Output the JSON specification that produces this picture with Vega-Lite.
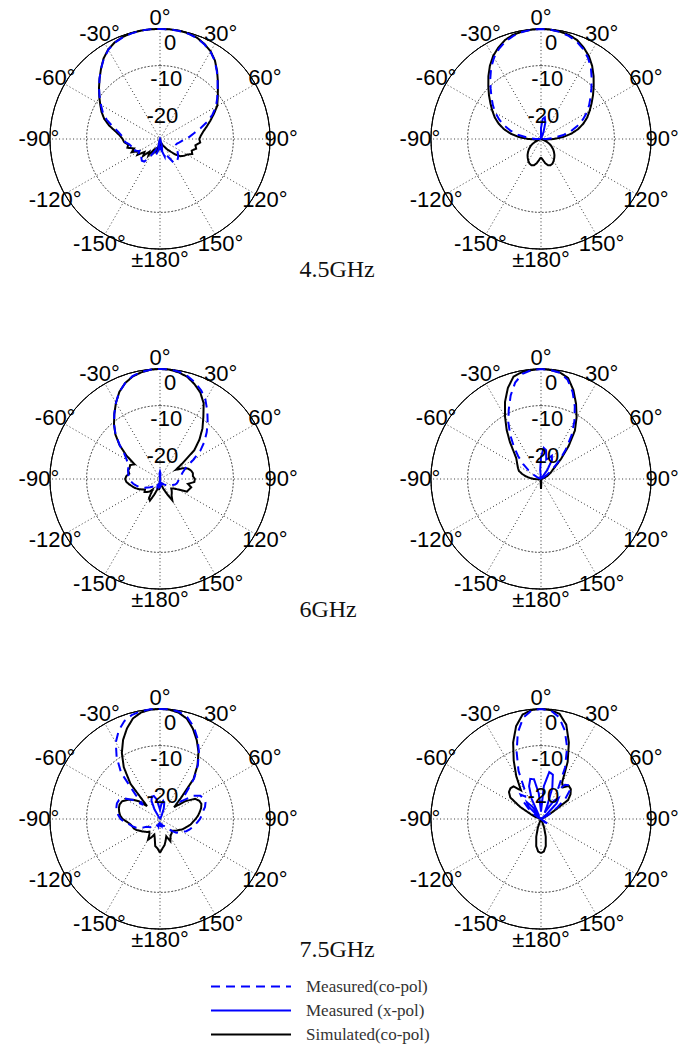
{
"$schema":"https://vega.github.io/schema/vega-lite/v6.json",
"background":"white",
"padding":{"left":18,"top":6,"right":5,"bottom":5},
"bounds":"flush",
"data":{"values":[
{"p":"a","a":-180,"sim":-28,"co":-27,"xp":-27},{"p":"a","a":-175,"sim":-27,"co":-27.5,"xp":-28},{"p":"a","a":-170,"sim":-28.5,"co":-26.5,"xp":-27.5},{"p":"a","a":-165,"sim":-26,"co":-25.5,"xp":-29},{"p":"a","a":-160,"sim":-27.5,"co":-27,"xp":-29.5},{"p":"a","a":-155,"sim":-25.5,"co":-26,"xp":-30},{"p":"a","a":-150,"sim":-26.5,"co":-24,"xp":-30},{"p":"a","a":-145,"sim":-24.5,"co":-22.5,"xp":-30},{"p":"a","a":-140,"sim":-25.5,"co":-22.3,"xp":-30},{"p":"a","a":-135,"sim":-23.5,"co":-22.8,"xp":-30},{"p":"a","a":-130,"sim":-24.5,"co":-23.5,"xp":-30},{"p":"a","a":-125,"sim":-22.5,"co":-22.8,"xp":-30},{"p":"a","a":-120,"sim":-23.5,"co":-23.5,"xp":-30},{"p":"a","a":-115,"sim":-21.5,"co":-22.5,"xp":-30},{"p":"a","a":-110,"sim":-22.5,"co":-23,"xp":-30},{"p":"a","a":-105,"sim":-20.8,"co":-22,"xp":-30},{"p":"a","a":-100,"sim":-21.2,"co":-21.5,"xp":-30},{"p":"a","a":-95,"sim":-20.2,"co":-20.5,"xp":-30},{"p":"a","a":-90,"sim":-19.8,"co":-20.2,"xp":-30},{"p":"a","a":-85,"sim":-19,"co":-19.5,"xp":-30},{"p":"a","a":-80,"sim":-17.6,"co":-18.4,"xp":-30},{"p":"a","a":-75,"sim":-15.6,"co":-16.6,"xp":-30},{"p":"a","a":-70,"sim":-13.8,"co":-14.5,"xp":-30},{"p":"a","a":-65,"sim":-12.4,"co":-12.8,"xp":-30},{"p":"a","a":-60,"sim":-11.2,"co":-11.4,"xp":-30},{"p":"a","a":-55,"sim":-9.8,"co":-9.9,"xp":-30},{"p":"a","a":-50,"sim":-8.3,"co":-8.3,"xp":-30},{"p":"a","a":-45,"sim":-6.7,"co":-6.7,"xp":-30},{"p":"a","a":-40,"sim":-5,"co":-5,"xp":-30},{"p":"a","a":-35,"sim":-3.2,"co":-3.3,"xp":-30},{"p":"a","a":-30,"sim":-1.8,"co":-1.9,"xp":-30},{"p":"a","a":-25,"sim":-0.9,"co":-1,"xp":-30},{"p":"a","a":-20,"sim":-0.4,"co":-0.5,"xp":-30},{"p":"a","a":-15,"sim":-0.1,"co":-0.2,"xp":-30},{"p":"a","a":-10,"sim":0,"co":0,"xp":-30},{"p":"a","a":-5,"sim":0,"co":0,"xp":-30},{"p":"a","a":0,"sim":0,"co":0,"xp":-30},{"p":"a","a":5,"sim":0,"co":0,"xp":-30},{"p":"a","a":10,"sim":0,"co":-0.1,"xp":-30},{"p":"a","a":15,"sim":-0.2,"co":-0.3,"xp":-30},{"p":"a","a":20,"sim":-0.6,"co":-0.7,"xp":-30},{"p":"a","a":25,"sim":-1.4,"co":-1.5,"xp":-30},{"p":"a","a":30,"sim":-2.4,"co":-2.5,"xp":-30},{"p":"a","a":35,"sim":-3.9,"co":-4,"xp":-30},{"p":"a","a":40,"sim":-5.8,"co":-5.9,"xp":-30},{"p":"a","a":45,"sim":-7.7,"co":-7.8,"xp":-30},{"p":"a","a":50,"sim":-9.4,"co":-9.5,"xp":-30},{"p":"a","a":55,"sim":-10.8,"co":-11,"xp":-30},{"p":"a","a":60,"sim":-12,"co":-12.4,"xp":-30},{"p":"a","a":65,"sim":-13.8,"co":-14.2,"xp":-30},{"p":"a","a":70,"sim":-15.4,"co":-16.3,"xp":-30},{"p":"a","a":75,"sim":-16.8,"co":-18.5,"xp":-30},{"p":"a","a":80,"sim":-18,"co":-20.5,"xp":-30},{"p":"a","a":85,"sim":-18.8,"co":-21.8,"xp":-30},{"p":"a","a":90,"sim":-19.3,"co":-22.8,"xp":-30},{"p":"a","a":95,"sim":-19,"co":-24,"xp":-30},{"p":"a","a":100,"sim":-20.2,"co":-24.6,"xp":-30},{"p":"a","a":105,"sim":-19.8,"co":-25.2,"xp":-30},{"p":"a","a":110,"sim":-20.8,"co":-25.4,"xp":-30},{"p":"a","a":115,"sim":-20.3,"co":-25.2,"xp":-30},{"p":"a","a":120,"sim":-21.5,"co":-24.8,"xp":-30},{"p":"a","a":125,"sim":-22,"co":-24.2,"xp":-30},{"p":"a","a":130,"sim":-22.7,"co":-23.6,"xp":-30},{"p":"a","a":135,"sim":-24,"co":-23,"xp":-30},{"p":"a","a":140,"sim":-25.5,"co":-22.6,"xp":-30},{"p":"a","a":145,"sim":-26.5,"co":-22.2,"xp":-30},{"p":"a","a":150,"sim":-27.5,"co":-22.6,"xp":-30},{"p":"a","a":155,"sim":-28,"co":-24.5,"xp":-30},{"p":"a","a":160,"sim":-28.5,"co":-26,"xp":-29.5},{"p":"a","a":165,"sim":-28.5,"co":-25,"xp":-28},{"p":"a","a":170,"sim":-29,"co":-26.5,"xp":-26.5},{"p":"a","a":175,"sim":-28.5,"co":-27.5,"xp":-27.5},{"p":"a","a":180,"sim":-28,"co":-27,"xp":-27},
{"p":"b","a":-180,"sim":-25,"co":-30,"xp":-30},{"p":"b","a":-175,"sim":-24.3,"co":-30,"xp":-30},{"p":"b","a":-170,"sim":-23.3,"co":-30,"xp":-30},{"p":"b","a":-165,"sim":-22.6,"co":-30,"xp":-30},{"p":"b","a":-160,"sim":-22.4,"co":-30,"xp":-30},{"p":"b","a":-155,"sim":-22.6,"co":-30,"xp":-30},{"p":"b","a":-150,"sim":-23.1,"co":-30,"xp":-30},{"p":"b","a":-145,"sim":-23.7,"co":-30,"xp":-30},{"p":"b","a":-140,"sim":-24.3,"co":-30,"xp":-30},{"p":"b","a":-135,"sim":-25,"co":-30,"xp":-30},{"p":"b","a":-130,"sim":-25.7,"co":-30,"xp":-30},{"p":"b","a":-125,"sim":-26.5,"co":-30,"xp":-30},{"p":"b","a":-120,"sim":-27.3,"co":-30,"xp":-30},{"p":"b","a":-115,"sim":-28.3,"co":-30,"xp":-30},{"p":"b","a":-110,"sim":-29.5,"co":-30,"xp":-30},{"p":"b","a":-105,"sim":-30,"co":-30,"xp":-30},{"p":"b","a":-100,"sim":-30,"co":-30,"xp":-30},{"p":"b","a":-95,"sim":-28.5,"co":-30,"xp":-30},{"p":"b","a":-90,"sim":-26.5,"co":-28.5,"xp":-30},{"p":"b","a":-85,"sim":-24,"co":-26.5,"xp":-30},{"p":"b","a":-80,"sim":-21.6,"co":-23.8,"xp":-30},{"p":"b","a":-75,"sim":-19.5,"co":-21.5,"xp":-30},{"p":"b","a":-70,"sim":-17.7,"co":-19.4,"xp":-30},{"p":"b","a":-65,"sim":-16.1,"co":-17.4,"xp":-30},{"p":"b","a":-60,"sim":-14.7,"co":-15.6,"xp":-30},{"p":"b","a":-55,"sim":-13.2,"co":-14,"xp":-30},{"p":"b","a":-50,"sim":-11.5,"co":-12.4,"xp":-30},{"p":"b","a":-45,"sim":-9.7,"co":-10.6,"xp":-30},{"p":"b","a":-40,"sim":-7.7,"co":-8.5,"xp":-30},{"p":"b","a":-35,"sim":-5.7,"co":-6.3,"xp":-30},{"p":"b","a":-30,"sim":-3.9,"co":-4.4,"xp":-30},{"p":"b","a":-25,"sim":-2.5,"co":-2.9,"xp":-30},{"p":"b","a":-20,"sim":-1.3,"co":-1.7,"xp":-30},{"p":"b","a":-15,"sim":-0.6,"co":-0.9,"xp":-30},{"p":"b","a":-10,"sim":-0.3,"co":-0.4,"xp":-30},{"p":"b","a":-5,"sim":-0.1,"co":-0.1,"xp":-30},{"p":"b","a":0,"sim":0,"co":0,"xp":-27},{"p":"b","a":5,"sim":-0.1,"co":-0.1,"xp":-24.5},{"p":"b","a":10,"sim":-0.3,"co":-0.4,"xp":-24},{"p":"b","a":15,"sim":-0.6,"co":-0.9,"xp":-25.5},{"p":"b","a":20,"sim":-1.3,"co":-1.7,"xp":-28},{"p":"b","a":25,"sim":-2.5,"co":-2.9,"xp":-30},{"p":"b","a":30,"sim":-3.9,"co":-4.4,"xp":-30},{"p":"b","a":35,"sim":-5.7,"co":-6.3,"xp":-30},{"p":"b","a":40,"sim":-7.7,"co":-8.5,"xp":-30},{"p":"b","a":45,"sim":-9.7,"co":-10.6,"xp":-30},{"p":"b","a":50,"sim":-11.5,"co":-12.4,"xp":-30},{"p":"b","a":55,"sim":-13.2,"co":-14,"xp":-30},{"p":"b","a":60,"sim":-14.7,"co":-15.6,"xp":-30},{"p":"b","a":65,"sim":-16.1,"co":-17.4,"xp":-30},{"p":"b","a":70,"sim":-17.7,"co":-19.4,"xp":-30},{"p":"b","a":75,"sim":-19.5,"co":-21.5,"xp":-30},{"p":"b","a":80,"sim":-21.6,"co":-23.8,"xp":-30},{"p":"b","a":85,"sim":-24,"co":-26.5,"xp":-30},{"p":"b","a":90,"sim":-26.5,"co":-28.5,"xp":-30},{"p":"b","a":95,"sim":-28.5,"co":-30,"xp":-30},{"p":"b","a":100,"sim":-30,"co":-30,"xp":-30},{"p":"b","a":105,"sim":-30,"co":-30,"xp":-30},{"p":"b","a":110,"sim":-29.5,"co":-30,"xp":-30},{"p":"b","a":115,"sim":-28.3,"co":-30,"xp":-30},{"p":"b","a":120,"sim":-27.3,"co":-30,"xp":-30},{"p":"b","a":125,"sim":-26.5,"co":-30,"xp":-30},{"p":"b","a":130,"sim":-25.7,"co":-30,"xp":-30},{"p":"b","a":135,"sim":-25,"co":-30,"xp":-30},{"p":"b","a":140,"sim":-24.3,"co":-30,"xp":-30},{"p":"b","a":145,"sim":-23.7,"co":-30,"xp":-30},{"p":"b","a":150,"sim":-23.1,"co":-30,"xp":-30},{"p":"b","a":155,"sim":-22.6,"co":-30,"xp":-30},{"p":"b","a":160,"sim":-22.4,"co":-30,"xp":-30},{"p":"b","a":165,"sim":-22.6,"co":-30,"xp":-30},{"p":"b","a":170,"sim":-23.3,"co":-30,"xp":-30},{"p":"b","a":175,"sim":-24.3,"co":-30,"xp":-30},{"p":"b","a":180,"sim":-25,"co":-30,"xp":-30},
{"p":"c","a":-180,"sim":-28.5,"co":-28,"xp":-27.5},{"p":"c","a":-175,"sim":-27,"co":-28.5,"xp":-28.5},{"p":"c","a":-170,"sim":-28.5,"co":-28,"xp":-30},{"p":"c","a":-165,"sim":-27,"co":-28.5,"xp":-30},{"p":"c","a":-160,"sim":-25.5,"co":-28,"xp":-30},{"p":"c","a":-155,"sim":-23.5,"co":-28.5,"xp":-30},{"p":"c","a":-150,"sim":-24,"co":-28,"xp":-30},{"p":"c","a":-145,"sim":-26.5,"co":-27.5,"xp":-30},{"p":"c","a":-140,"sim":-25.5,"co":-27.2,"xp":-30},{"p":"c","a":-135,"sim":-25,"co":-27,"xp":-30},{"p":"c","a":-130,"sim":-24.5,"co":-26.5,"xp":-30},{"p":"c","a":-125,"sim":-25,"co":-26,"xp":-30},{"p":"c","a":-120,"sim":-24.3,"co":-25.2,"xp":-30},{"p":"c","a":-115,"sim":-23.5,"co":-24.5,"xp":-30},{"p":"c","a":-110,"sim":-22.8,"co":-23.8,"xp":-30},{"p":"c","a":-105,"sim":-22.2,"co":-23.2,"xp":-30},{"p":"c","a":-100,"sim":-21.5,"co":-22.6,"xp":-30},{"p":"c","a":-95,"sim":-20.8,"co":-22.1,"xp":-30},{"p":"c","a":-90,"sim":-20.5,"co":-21.8,"xp":-30},{"p":"c","a":-85,"sim":-20.8,"co":-21.4,"xp":-30},{"p":"c","a":-80,"sim":-21.5,"co":-21.2,"xp":-30},{"p":"c","a":-75,"sim":-21,"co":-21,"xp":-30},{"p":"c","a":-70,"sim":-21.2,"co":-20.8,"xp":-30},{"p":"c","a":-65,"sim":-21,"co":-20.4,"xp":-30},{"p":"c","a":-60,"sim":-22,"co":-19.5,"xp":-30},{"p":"c","a":-55,"sim":-18.8,"co":-18.2,"xp":-30},{"p":"c","a":-50,"sim":-15.6,"co":-15.7,"xp":-30},{"p":"c","a":-45,"sim":-12.8,"co":-12.9,"xp":-30},{"p":"c","a":-40,"sim":-10.5,"co":-10.5,"xp":-30},{"p":"c","a":-35,"sim":-8.3,"co":-8.3,"xp":-30},{"p":"c","a":-30,"sim":-6,"co":-6,"xp":-30},{"p":"c","a":-25,"sim":-3.8,"co":-3.8,"xp":-30},{"p":"c","a":-20,"sim":-2.2,"co":-2.2,"xp":-30},{"p":"c","a":-15,"sim":-1.1,"co":-1,"xp":-30},{"p":"c","a":-10,"sim":-0.5,"co":-0.4,"xp":-30},{"p":"c","a":-5,"sim":-0.1,"co":-0.1,"xp":-28.5},{"p":"c","a":0,"sim":0,"co":0,"xp":-28},{"p":"c","a":5,"sim":-0.1,"co":0,"xp":-28.5},{"p":"c","a":10,"sim":-0.5,"co":-0.3,"xp":-30},{"p":"c","a":15,"sim":-1.2,"co":-1,"xp":-30},{"p":"c","a":20,"sim":-2.5,"co":-2,"xp":-30},{"p":"c","a":25,"sim":-4,"co":-3.4,"xp":-30},{"p":"c","a":30,"sim":-6.2,"co":-5.2,"xp":-30},{"p":"c","a":35,"sim":-9.4,"co":-7.5,"xp":-30},{"p":"c","a":40,"sim":-12,"co":-9.8,"xp":-30},{"p":"c","a":45,"sim":-14.8,"co":-12,"xp":-30},{"p":"c","a":50,"sim":-17.8,"co":-14.2,"xp":-30},{"p":"c","a":55,"sim":-22.5,"co":-16.6,"xp":-30},{"p":"c","a":60,"sim":-25,"co":-19.5,"xp":-30},{"p":"c","a":65,"sim":-23,"co":-22,"xp":-30},{"p":"c","a":70,"sim":-21.8,"co":-23,"xp":-30},{"p":"c","a":75,"sim":-21.2,"co":-23.7,"xp":-30},{"p":"c","a":80,"sim":-20.9,"co":-24.1,"xp":-30},{"p":"c","a":85,"sim":-21,"co":-24.5,"xp":-30},{"p":"c","a":90,"sim":-20.5,"co":-24.8,"xp":-30},{"p":"c","a":95,"sim":-20.6,"co":-25,"xp":-30},{"p":"c","a":100,"sim":-22.3,"co":-25.1,"xp":-30},{"p":"c","a":105,"sim":-21.2,"co":-25.3,"xp":-30},{"p":"c","a":110,"sim":-21.6,"co":-25.6,"xp":-30},{"p":"c","a":115,"sim":-21.9,"co":-26.2,"xp":-30},{"p":"c","a":120,"sim":-24.3,"co":-26.6,"xp":-30},{"p":"c","a":125,"sim":-25.5,"co":-27,"xp":-30},{"p":"c","a":130,"sim":-26,"co":-27.2,"xp":-30},{"p":"c","a":135,"sim":-25.5,"co":-27.5,"xp":-30},{"p":"c","a":140,"sim":-25,"co":-28,"xp":-30},{"p":"c","a":145,"sim":-24.5,"co":-28.2,"xp":-30},{"p":"c","a":150,"sim":-23.3,"co":-28.5,"xp":-30},{"p":"c","a":155,"sim":-25.5,"co":-28.5,"xp":-30},{"p":"c","a":160,"sim":-27,"co":-28.7,"xp":-30},{"p":"c","a":165,"sim":-28,"co":-28.5,"xp":-30},{"p":"c","a":170,"sim":-29,"co":-28.8,"xp":-30},{"p":"c","a":175,"sim":-28.5,"co":-28.5,"xp":-28.5},{"p":"c","a":180,"sim":-28.5,"co":-28,"xp":-27.5},
{"p":"d","a":-180,"sim":-27.3,"co":-30,"xp":-30},{"p":"d","a":-175,"sim":-29,"co":-30,"xp":-30},{"p":"d","a":-170,"sim":-30,"co":-30,"xp":-30},{"p":"d","a":-165,"sim":-30,"co":-30,"xp":-30},{"p":"d","a":-160,"sim":-30,"co":-30,"xp":-30},{"p":"d","a":-155,"sim":-30,"co":-30,"xp":-30},{"p":"d","a":-150,"sim":-30,"co":-30,"xp":-30},{"p":"d","a":-145,"sim":-30,"co":-30,"xp":-30},{"p":"d","a":-140,"sim":-30,"co":-30,"xp":-30},{"p":"d","a":-135,"sim":-30,"co":-30,"xp":-30},{"p":"d","a":-130,"sim":-30,"co":-30,"xp":-30},{"p":"d","a":-125,"sim":-30,"co":-30,"xp":-30},{"p":"d","a":-120,"sim":-30,"co":-30,"xp":-30},{"p":"d","a":-115,"sim":-30,"co":-30,"xp":-30},{"p":"d","a":-110,"sim":-30,"co":-30,"xp":-30},{"p":"d","a":-105,"sim":-30,"co":-30,"xp":-30},{"p":"d","a":-100,"sim":-30,"co":-30,"xp":-30},{"p":"d","a":-95,"sim":-29,"co":-30,"xp":-30},{"p":"d","a":-90,"sim":-28,"co":-30,"xp":-30},{"p":"d","a":-85,"sim":-27,"co":-30,"xp":-30},{"p":"d","a":-80,"sim":-25.8,"co":-30,"xp":-30},{"p":"d","a":-75,"sim":-24.7,"co":-30,"xp":-30},{"p":"d","a":-70,"sim":-23.6,"co":-30,"xp":-30},{"p":"d","a":-65,"sim":-23.1,"co":-28.8,"xp":-30},{"p":"d","a":-60,"sim":-22.6,"co":-27.5,"xp":-30},{"p":"d","a":-55,"sim":-22,"co":-25.8,"xp":-30},{"p":"d","a":-50,"sim":-21.2,"co":-23.6,"xp":-30},{"p":"d","a":-45,"sim":-19.5,"co":-21.2,"xp":-30},{"p":"d","a":-40,"sim":-16.8,"co":-18.5,"xp":-30},{"p":"d","a":-35,"sim":-13.7,"co":-15.4,"xp":-30},{"p":"d","a":-30,"sim":-10.4,"co":-12.2,"xp":-30},{"p":"d","a":-25,"sim":-6.8,"co":-9.2,"xp":-30},{"p":"d","a":-20,"sim":-3.6,"co":-5.8,"xp":-30},{"p":"d","a":-15,"sim":-1.1,"co":-2.8,"xp":-30},{"p":"d","a":-10,"sim":-0.4,"co":-0.9,"xp":-30},{"p":"d","a":-5,"sim":-0.2,"co":-0.2,"xp":-27.5},{"p":"d","a":0,"sim":0,"co":0,"xp":-24},{"p":"d","a":5,"sim":-0.2,"co":-0.2,"xp":-21.5},{"p":"d","a":10,"sim":-0.5,"co":-0.6,"xp":-22},{"p":"d","a":15,"sim":-1.5,"co":-2,"xp":-24.5},{"p":"d","a":20,"sim":-4.2,"co":-4.8,"xp":-24},{"p":"d","a":25,"sim":-7.4,"co":-8.2,"xp":-23},{"p":"d","a":30,"sim":-10.6,"co":-11.8,"xp":-24},{"p":"d","a":35,"sim":-13.9,"co":-15.5,"xp":-27},{"p":"d","a":40,"sim":-18.3,"co":-19.5,"xp":-30},{"p":"d","a":45,"sim":-22.3,"co":-23,"xp":-30},{"p":"d","a":50,"sim":-25.3,"co":-26,"xp":-30},{"p":"d","a":55,"sim":-26.6,"co":-28,"xp":-30},{"p":"d","a":60,"sim":-27.5,"co":-29.5,"xp":-30},{"p":"d","a":65,"sim":-28.2,"co":-30,"xp":-30},{"p":"d","a":70,"sim":-29,"co":-30,"xp":-30},{"p":"d","a":75,"sim":-29.5,"co":-30,"xp":-30},{"p":"d","a":80,"sim":-30,"co":-30,"xp":-30},{"p":"d","a":85,"sim":-30,"co":-30,"xp":-30},{"p":"d","a":90,"sim":-30,"co":-30,"xp":-30},{"p":"d","a":95,"sim":-30,"co":-30,"xp":-30},{"p":"d","a":100,"sim":-30,"co":-30,"xp":-30},{"p":"d","a":105,"sim":-30,"co":-30,"xp":-30},{"p":"d","a":110,"sim":-30,"co":-30,"xp":-30},{"p":"d","a":115,"sim":-30,"co":-30,"xp":-30},{"p":"d","a":120,"sim":-30,"co":-30,"xp":-30},{"p":"d","a":125,"sim":-30,"co":-30,"xp":-30},{"p":"d","a":130,"sim":-30,"co":-30,"xp":-30},{"p":"d","a":135,"sim":-30,"co":-30,"xp":-30},{"p":"d","a":140,"sim":-30,"co":-30,"xp":-30},{"p":"d","a":145,"sim":-30,"co":-30,"xp":-30},{"p":"d","a":150,"sim":-30,"co":-30,"xp":-30},{"p":"d","a":155,"sim":-30,"co":-30,"xp":-30},{"p":"d","a":160,"sim":-30,"co":-30,"xp":-30},{"p":"d","a":165,"sim":-30,"co":-30,"xp":-30},{"p":"d","a":170,"sim":-30,"co":-30,"xp":-30},{"p":"d","a":175,"sim":-29,"co":-30,"xp":-30},{"p":"d","a":180,"sim":-27.3,"co":-30,"xp":-30},
{"p":"e","a":-180,"sim":-20.8,"co":-28,"xp":-30},{"p":"e","a":-175,"sim":-22,"co":-28.5,"xp":-30},{"p":"e","a":-170,"sim":-22.5,"co":-28,"xp":-30},{"p":"e","a":-165,"sim":-24.5,"co":-28.5,"xp":-30},{"p":"e","a":-160,"sim":-25.5,"co":-28,"xp":-30},{"p":"e","a":-155,"sim":-24.5,"co":-28,"xp":-30},{"p":"e","a":-150,"sim":-23.5,"co":-27.5,"xp":-30},{"p":"e","a":-145,"sim":-25,"co":-27.5,"xp":-30},{"p":"e","a":-140,"sim":-25.5,"co":-27,"xp":-30},{"p":"e","a":-135,"sim":-25,"co":-27,"xp":-30},{"p":"e","a":-130,"sim":-24.6,"co":-26.5,"xp":-30},{"p":"e","a":-125,"sim":-24.1,"co":-26.2,"xp":-30},{"p":"e","a":-120,"sim":-23.6,"co":-25.8,"xp":-30},{"p":"e","a":-115,"sim":-22.9,"co":-24.2,"xp":-30},{"p":"e","a":-110,"sim":-22.4,"co":-23.1,"xp":-30},{"p":"e","a":-105,"sim":-22.2,"co":-22.3,"xp":-30},{"p":"e","a":-100,"sim":-21.8,"co":-21.5,"xp":-30},{"p":"e","a":-95,"sim":-21,"co":-20.3,"xp":-30},{"p":"e","a":-90,"sim":-19.8,"co":-19.3,"xp":-30},{"p":"e","a":-85,"sim":-19.1,"co":-18.6,"xp":-30},{"p":"e","a":-80,"sim":-18.7,"co":-18.1,"xp":-30},{"p":"e","a":-75,"sim":-18.4,"co":-17.7,"xp":-30},{"p":"e","a":-70,"sim":-18.3,"co":-17.5,"xp":-30},{"p":"e","a":-65,"sim":-18.6,"co":-17.7,"xp":-30},{"p":"e","a":-60,"sim":-19.6,"co":-18.8,"xp":-30},{"p":"e","a":-55,"sim":-20.8,"co":-21,"xp":-30},{"p":"e","a":-50,"sim":-22.5,"co":-24,"xp":-30},{"p":"e","a":-45,"sim":-25,"co":-20.5,"xp":-30},{"p":"e","a":-40,"sim":-17.5,"co":-13.5,"xp":-30},{"p":"e","a":-35,"sim":-12.8,"co":-9.4,"xp":-30},{"p":"e","a":-30,"sim":-9.2,"co":-5.9,"xp":-27},{"p":"e","a":-25,"sim":-6.2,"co":-3.4,"xp":-24.5},{"p":"e","a":-20,"sim":-3.7,"co":-1.6,"xp":-23.5},{"p":"e","a":-15,"sim":-1.6,"co":-0.6,"xp":-23.5},{"p":"e","a":-10,"sim":-0.5,"co":-0.2,"xp":-24.5},{"p":"e","a":-5,"sim":-0.1,"co":0,"xp":-26.5},{"p":"e","a":0,"sim":0,"co":0,"xp":-27.5},{"p":"e","a":5,"sim":-0.1,"co":0,"xp":-26},{"p":"e","a":10,"sim":-0.6,"co":-0.3,"xp":-25},{"p":"e","a":15,"sim":-1.7,"co":-1.3,"xp":-25.5},{"p":"e","a":20,"sim":-3.8,"co":-3.2,"xp":-27},{"p":"e","a":25,"sim":-6.3,"co":-5.8,"xp":-29},{"p":"e","a":30,"sim":-9,"co":-8.8,"xp":-30},{"p":"e","a":35,"sim":-12.2,"co":-12,"xp":-30},{"p":"e","a":40,"sim":-15.8,"co":-15.5,"xp":-30},{"p":"e","a":45,"sim":-22,"co":-20,"xp":-30},{"p":"e","a":50,"sim":-25,"co":-22.5,"xp":-30},{"p":"e","a":55,"sim":-21.5,"co":-19,"xp":-30},{"p":"e","a":60,"sim":-19,"co":-17.3,"xp":-30},{"p":"e","a":65,"sim":-18.2,"co":-16.9,"xp":-30},{"p":"e","a":70,"sim":-18,"co":-16.8,"xp":-30},{"p":"e","a":75,"sim":-18.4,"co":-17.3,"xp":-30},{"p":"e","a":80,"sim":-19,"co":-18.1,"xp":-30},{"p":"e","a":85,"sim":-19.6,"co":-18.6,"xp":-30},{"p":"e","a":90,"sim":-20.3,"co":-19.1,"xp":-30},{"p":"e","a":95,"sim":-21,"co":-19.8,"xp":-30},{"p":"e","a":100,"sim":-21.5,"co":-20.3,"xp":-30},{"p":"e","a":105,"sim":-22.2,"co":-21,"xp":-30},{"p":"e","a":110,"sim":-22.8,"co":-21.5,"xp":-30},{"p":"e","a":115,"sim":-23.3,"co":-22.1,"xp":-30},{"p":"e","a":120,"sim":-24,"co":-23,"xp":-30},{"p":"e","a":125,"sim":-24.5,"co":-23.6,"xp":-30},{"p":"e","a":130,"sim":-25,"co":-24.2,"xp":-30},{"p":"e","a":135,"sim":-25.5,"co":-25.3,"xp":-30},{"p":"e","a":140,"sim":-25,"co":-26.5,"xp":-30},{"p":"e","a":145,"sim":-24.8,"co":-27.2,"xp":-30},{"p":"e","a":150,"sim":-24.3,"co":-27.8,"xp":-30},{"p":"e","a":155,"sim":-23.3,"co":-28,"xp":-30},{"p":"e","a":160,"sim":-25,"co":-28.3,"xp":-30},{"p":"e","a":165,"sim":-24,"co":-28,"xp":-30},{"p":"e","a":170,"sim":-22.8,"co":-28.5,"xp":-30},{"p":"e","a":175,"sim":-22,"co":-28,"xp":-30},{"p":"e","a":180,"sim":-20.8,"co":-28,"xp":-30},
{"p":"f","a":-180,"sim":-20.7,"co":-30,"xp":-30},{"p":"f","a":-175,"sim":-21.1,"co":-30,"xp":-30},{"p":"f","a":-170,"sim":-22.5,"co":-30,"xp":-30},{"p":"f","a":-165,"sim":-25,"co":-30,"xp":-30},{"p":"f","a":-160,"sim":-27.5,"co":-30,"xp":-30},{"p":"f","a":-155,"sim":-29.5,"co":-30,"xp":-30},{"p":"f","a":-150,"sim":-30,"co":-30,"xp":-30},{"p":"f","a":-145,"sim":-30,"co":-30,"xp":-30},{"p":"f","a":-140,"sim":-30,"co":-30,"xp":-30},{"p":"f","a":-135,"sim":-30,"co":-30,"xp":-30},{"p":"f","a":-130,"sim":-30,"co":-30,"xp":-30},{"p":"f","a":-125,"sim":-30,"co":-30,"xp":-30},{"p":"f","a":-120,"sim":-30,"co":-30,"xp":-30},{"p":"f","a":-115,"sim":-30,"co":-30,"xp":-30},{"p":"f","a":-110,"sim":-30,"co":-30,"xp":-30},{"p":"f","a":-105,"sim":-30,"co":-30,"xp":-30},{"p":"f","a":-100,"sim":-30,"co":-30,"xp":-30},{"p":"f","a":-95,"sim":-30,"co":-30,"xp":-30},{"p":"f","a":-90,"sim":-30,"co":-30,"xp":-30},{"p":"f","a":-85,"sim":-30,"co":-30,"xp":-30},{"p":"f","a":-80,"sim":-30,"co":-30,"xp":-30},{"p":"f","a":-75,"sim":-30,"co":-30,"xp":-30},{"p":"f","a":-70,"sim":-28.5,"co":-30,"xp":-30},{"p":"f","a":-65,"sim":-27,"co":-30,"xp":-30},{"p":"f","a":-60,"sim":-23.5,"co":-29,"xp":-30},{"p":"f","a":-55,"sim":-19.8,"co":-27.5,"xp":-30},{"p":"f","a":-50,"sim":-18.6,"co":-25.5,"xp":-30},{"p":"f","a":-45,"sim":-18.2,"co":-23.2,"xp":-25},{"p":"f","a":-40,"sim":-18.4,"co":-21.3,"xp":-24},{"p":"f","a":-35,"sim":-20.5,"co":-22.5,"xp":-26},{"p":"f","a":-30,"sim":-16.5,"co":-21.5,"xp":-29},{"p":"f","a":-25,"sim":-12.4,"co":-15.5,"xp":-24},{"p":"f","a":-20,"sim":-7.8,"co":-10.6,"xp":-20.5},{"p":"f","a":-15,"sim":-3.8,"co":-5.6,"xp":-18.7},{"p":"f","a":-10,"sim":-1.1,"co":-2,"xp":-19},{"p":"f","a":-5,"sim":-0.2,"co":-0.3,"xp":-23},{"p":"f","a":0,"sim":0,"co":0,"xp":-28},{"p":"f","a":5,"sim":-0.2,"co":-0.3,"xp":-21},{"p":"f","a":10,"sim":-0.9,"co":-1.8,"xp":-17},{"p":"f","a":15,"sim":-3.4,"co":-5,"xp":-17.5},{"p":"f","a":20,"sim":-7.8,"co":-9.2,"xp":-21},{"p":"f","a":25,"sim":-12.8,"co":-14.5,"xp":-26},{"p":"f","a":30,"sim":-18.5,"co":-21,"xp":-28},{"p":"f","a":35,"sim":-19.5,"co":-18.6,"xp":-24},{"p":"f","a":40,"sim":-18.2,"co":-18,"xp":-22.5},{"p":"f","a":45,"sim":-18.5,"co":-18.7,"xp":-24},{"p":"f","a":50,"sim":-19.5,"co":-21.3,"xp":-28},{"p":"f","a":55,"sim":-21,"co":-24.8,"xp":-30},{"p":"f","a":60,"sim":-27,"co":-27.5,"xp":-30},{"p":"f","a":65,"sim":-29,"co":-29.5,"xp":-30},{"p":"f","a":70,"sim":-30,"co":-30,"xp":-30},{"p":"f","a":75,"sim":-30,"co":-30,"xp":-30},{"p":"f","a":80,"sim":-30,"co":-30,"xp":-30},{"p":"f","a":85,"sim":-30,"co":-30,"xp":-30},{"p":"f","a":90,"sim":-30,"co":-30,"xp":-30},{"p":"f","a":95,"sim":-30,"co":-30,"xp":-30},{"p":"f","a":100,"sim":-30,"co":-30,"xp":-30},{"p":"f","a":105,"sim":-30,"co":-30,"xp":-30},{"p":"f","a":110,"sim":-30,"co":-30,"xp":-30},{"p":"f","a":115,"sim":-30,"co":-30,"xp":-30},{"p":"f","a":120,"sim":-30,"co":-30,"xp":-30},{"p":"f","a":125,"sim":-30,"co":-30,"xp":-28},{"p":"f","a":130,"sim":-30,"co":-30,"xp":-28.5},{"p":"f","a":135,"sim":-30,"co":-30,"xp":-30},{"p":"f","a":140,"sim":-30,"co":-30,"xp":-30},{"p":"f","a":145,"sim":-30,"co":-30,"xp":-30},{"p":"f","a":150,"sim":-30,"co":-30,"xp":-30},{"p":"f","a":155,"sim":-29.5,"co":-30,"xp":-30},{"p":"f","a":160,"sim":-27.5,"co":-30,"xp":-30},{"p":"f","a":165,"sim":-25,"co":-30,"xp":-30},{"p":"f","a":170,"sim":-22.5,"co":-30,"xp":-30},{"p":"f","a":175,"sim":-21.1,"co":-30,"xp":-30},{"p":"f","a":180,"sim":-20.7,"co":-30,"xp":-30},
{"p":"a","k":"ring","d":0,"t":"0"},{"p":"a","k":"ring","d":-10,"t":"-10"},{"p":"a","k":"ring","d":-20,"t":"-20"},
{"p":"b","k":"ring","d":0,"t":"0"},{"p":"b","k":"ring","d":-10,"t":"-10"},{"p":"b","k":"ring","d":-20,"t":"-20"},
{"p":"c","k":"ring","d":0,"t":"0"},{"p":"c","k":"ring","d":-10,"t":"-10"},{"p":"c","k":"ring","d":-20,"t":"-20"},
{"p":"d","k":"ring","d":0,"t":"0"},{"p":"d","k":"ring","d":-10,"t":"-10"},{"p":"d","k":"ring","d":-20,"t":"-20"},
{"p":"e","k":"ring","d":0,"t":"0"},{"p":"e","k":"ring","d":-10,"t":"-10"},{"p":"e","k":"ring","d":-20,"t":"-20"},
{"p":"f","k":"ring","d":0,"t":"0"},{"p":"f","k":"ring","d":-10,"t":"-10"},{"p":"f","k":"ring","d":-20,"t":"-20"},
{"p":"a","k":"ang","a":0,"t":"0°"},{"p":"a","k":"ang","a":30,"t":"30°"},{"p":"a","k":"ang","a":60,"t":"60°"},{"p":"a","k":"ang","a":90,"t":"90°"},{"p":"a","k":"ang","a":120,"t":"120°"},{"p":"a","k":"ang","a":150,"t":"150°"},{"p":"a","k":"ang","a":180,"t":"±180°"},{"p":"a","k":"ang","a":-150,"t":"-150°"},{"p":"a","k":"ang","a":-120,"t":"-120°"},{"p":"a","k":"ang","a":-90,"t":"-90°"},{"p":"a","k":"ang","a":-60,"t":"-60°"},{"p":"a","k":"ang","a":-30,"t":"-30°"},
{"p":"b","k":"ang","a":0,"t":"0°"},{"p":"b","k":"ang","a":30,"t":"30°"},{"p":"b","k":"ang","a":60,"t":"60°"},{"p":"b","k":"ang","a":90,"t":"90°"},{"p":"b","k":"ang","a":120,"t":"120°"},{"p":"b","k":"ang","a":150,"t":"150°"},{"p":"b","k":"ang","a":180,"t":"±180°"},{"p":"b","k":"ang","a":-150,"t":"-150°"},{"p":"b","k":"ang","a":-120,"t":"-120°"},{"p":"b","k":"ang","a":-90,"t":"-90°"},{"p":"b","k":"ang","a":-60,"t":"-60°"},{"p":"b","k":"ang","a":-30,"t":"-30°"},
{"p":"c","k":"ang","a":0,"t":"0°"},{"p":"c","k":"ang","a":30,"t":"30°"},{"p":"c","k":"ang","a":60,"t":"60°"},{"p":"c","k":"ang","a":90,"t":"90°"},{"p":"c","k":"ang","a":120,"t":"120°"},{"p":"c","k":"ang","a":150,"t":"150°"},{"p":"c","k":"ang","a":180,"t":"±180°"},{"p":"c","k":"ang","a":-150,"t":"-150°"},{"p":"c","k":"ang","a":-120,"t":"-120°"},{"p":"c","k":"ang","a":-90,"t":"-90°"},{"p":"c","k":"ang","a":-60,"t":"-60°"},{"p":"c","k":"ang","a":-30,"t":"-30°"},
{"p":"d","k":"ang","a":0,"t":"0°"},{"p":"d","k":"ang","a":30,"t":"30°"},{"p":"d","k":"ang","a":60,"t":"60°"},{"p":"d","k":"ang","a":90,"t":"90°"},{"p":"d","k":"ang","a":120,"t":"120°"},{"p":"d","k":"ang","a":150,"t":"150°"},{"p":"d","k":"ang","a":180,"t":"±180°"},{"p":"d","k":"ang","a":-150,"t":"-150°"},{"p":"d","k":"ang","a":-120,"t":"-120°"},{"p":"d","k":"ang","a":-90,"t":"-90°"},{"p":"d","k":"ang","a":-60,"t":"-60°"},{"p":"d","k":"ang","a":-30,"t":"-30°"},
{"p":"e","k":"ang","a":0,"t":"0°"},{"p":"e","k":"ang","a":30,"t":"30°"},{"p":"e","k":"ang","a":60,"t":"60°"},{"p":"e","k":"ang","a":90,"t":"90°"},{"p":"e","k":"ang","a":120,"t":"120°"},{"p":"e","k":"ang","a":150,"t":"150°"},{"p":"e","k":"ang","a":180,"t":"±180°"},{"p":"e","k":"ang","a":-150,"t":"-150°"},{"p":"e","k":"ang","a":-120,"t":"-120°"},{"p":"e","k":"ang","a":-90,"t":"-90°"},{"p":"e","k":"ang","a":-60,"t":"-60°"},{"p":"e","k":"ang","a":-30,"t":"-30°"},
{"p":"f","k":"ang","a":0,"t":"0°"},{"p":"f","k":"ang","a":30,"t":"30°"},{"p":"f","k":"ang","a":60,"t":"60°"},{"p":"f","k":"ang","a":90,"t":"90°"},{"p":"f","k":"ang","a":120,"t":"120°"},{"p":"f","k":"ang","a":150,"t":"150°"},{"p":"f","k":"ang","a":180,"t":"±180°"},{"p":"f","k":"ang","a":-150,"t":"-150°"},{"p":"f","k":"ang","a":-120,"t":"-120°"},{"p":"f","k":"ang","a":-90,"t":"-90°"},{"p":"f","k":"ang","a":-60,"t":"-60°"},{"p":"f","k":"ang","a":-30,"t":"-30°"},
{"p":"a","k":"freq","t":"4.5GHz"},{"p":"c","k":"freq","t":"6GHz"},{"p":"e","k":"freq","t":"7.5GHz"}
]},
"facet":{"field":"p","type":"nominal","title":null,"header":{"labels":false,"labelExpr":"''","labelFontSize":0,"labelPadding":0,"title":null,"titlePadding":0}},
"columns":2,
"spacing":{"row":100,"column":141},
"spec":{
"width":240,"height":240,
"layer":[
{"transform":[{"filter":"datum.k == 'ring' && datum.d < 0"}],
 "mark":{"type":"arc","filled":false,"stroke":"#000000","strokeWidth":0.8,"strokeDash":[1,2.5],"theta":0,"theta2":6.2832},
 "encoding":{"radius":{"field":"d","type":"quantitative","scale":{"type":"linear","zero":false,"nice":false,"domain":[-30,2.7],"range":[0,120]}}}},
{"transform":[{"filter":"datum.k == 'ring' && datum.d == 0"}],
 "mark":{"type":"arc","filled":false,"stroke":"#000000","strokeWidth":1,"theta":0,"theta2":6.2832},
 "encoding":{"radius":{"field":"d","type":"quantitative","scale":{"type":"linear","zero":false,"nice":false,"domain":[-30,2.7],"range":[0,120]}}}},
{"transform":[{"filter":"datum.k == 'ang' && datum.a >= 0 && datum.a <= 150"},
  {"calculate":"30*sin(datum.a*PI/180)","as":"x"},{"calculate":"30*cos(datum.a*PI/180)","as":"y"},
  {"calculate":"-datum.x","as":"x2"},{"calculate":"-datum.y","as":"y2"}],
 "mark":{"type":"rule","stroke":"#000000","strokeWidth":0.8,"strokeDash":[1,2.5]},
 "encoding":{"x":{"field":"x","type":"quantitative","scale":{"domain":[-32.7,32.7],"nice":false,"zero":false},"axis":null},
  "y":{"field":"y","type":"quantitative","scale":{"domain":[-32.7,32.7],"nice":false,"zero":false},"axis":null},
  "x2":{"field":"x2"},"y2":{"field":"y2"}}},
{"transform":[{"filter":"datum.k == null"},{"fold":["sim","co","xp"],"as":["s","d"]},
  {"calculate":"(datum.d+30)*sin(datum.a*PI/180)","as":"x"},{"calculate":"(datum.d+30)*cos(datum.a*PI/180)","as":"y"}],
 "mark":{"type":"line","strokeWidth":2},
 "encoding":{"x":{"field":"x","type":"quantitative","scale":{"domain":[-32.7,32.7],"nice":false,"zero":false},"axis":null},
  "y":{"field":"y","type":"quantitative","scale":{"domain":[-32.7,32.7],"nice":false,"zero":false},"axis":null},
  "order":{"field":"a","type":"quantitative"},
  "color":{"field":"s","type":"nominal","scale":{"domain":["co","xp","sim"],"range":["#0000ff","#0000ff","#000000"]},
   "legend":{"title":null,"labelExpr":"datum.value == 'co' ? 'Measured(co-pol)' : datum.value == 'xp' ? 'Measured (x-pol)' : 'Simulated(co-pol)'"}},
  "strokeDash":{"field":"s","type":"nominal","scale":{"domain":["co","xp","sim"],"range":[[9,6],[1,0],[1,0]]},
   "legend":{"title":null,"labelExpr":"datum.value == 'co' ? 'Measured(co-pol)' : datum.value == 'xp' ? 'Measured (x-pol)' : 'Simulated(co-pol)'"}}}},
{"transform":[{"filter":"datum.k == 'ring'"}],
 "mark":{"type":"text","font":"Liberation Sans","fontSize":22,"align":"center","baseline":"middle","radiusOffset":-13.5},
 "encoding":{"theta":{"datum":6,"type":"quantitative","stack":null,"scale":{"domain":[0,360]}},
  "radius":{"field":"d","type":"quantitative","scale":{"type":"linear","zero":false,"nice":false,"domain":[-30,2.7],"range":[0,120]}},
  "text":{"field":"t","type":"nominal"}}},
{"transform":[{"filter":"datum.k == 'ang'"}],
 "mark":{"type":"text","font":"Liberation Sans","fontSize":22,"align":"center","baseline":"middle"},
 "encoding":{"theta":{"field":"a","type":"quantitative","stack":null,"scale":{"domain":[0,360]}},
  "radius":{"datum":3,"type":"quantitative","scale":{"type":"linear","zero":false,"nice":false,"domain":[-30,2.7],"range":[0,120]}},
  "text":{"field":"t","type":"nominal"}}},
{"transform":[{"filter":"datum.k == 'freq'"}],
 "mark":{"type":"text","font":"Liberation Serif","fontSize":24,"align":"left","baseline":"alphabetic","color":"#111111"},
 "encoding":{"x":{"datum":38,"type":"quantitative"},"y":{"datum":-37.5,"type":"quantitative"},"text":{"field":"t","type":"nominal"}}}
]},
"config":{
 "view":{"stroke":null},
 "font":"Liberation Sans",
 "header":{"labels":false,"title":null,"labelFontSize":0,"labelPadding":0,"titlePadding":0},
 "legend":{"orient":"none","legendX":202.5,"legendY":959,"symbolType":"M-8,0H8","symbolSize":100,"symbolStrokeWidth":2,
  "labelFont":"Liberation Serif","labelFontSize":17,"labelColor":"#333333","labelOffset":46.5,"rowPadding":6,"padding":0,"labelLimit":300}
}
}
